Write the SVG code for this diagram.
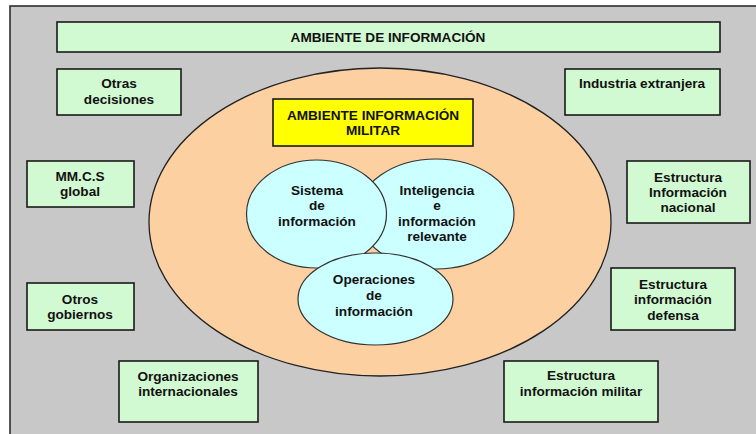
<svg xmlns="http://www.w3.org/2000/svg" width="756" height="434" viewBox="0 0 756 434">
<style>
.box{fill:#d2fad2;stroke:#1a1a1a;stroke-width:1.6}
.inner{fill:#ccffff;stroke:#333;stroke-width:1.2}
text{font-family:"Liberation Sans",Arial,sans-serif;font-weight:bold;font-size:13.6px;fill:#111;text-anchor:middle}
</style>
<rect x="0" y="0" width="756" height="434" fill="#ffffff"/>
<rect id="frame" x="10" y="6" width="780" height="450" fill="#c8c8c8" stroke="#222" stroke-width="1.5"/>
<g id="connectors"/>
<g id="ambiente-informacion">
<rect class="box" x="57" y="22" width="663" height="30"/>
<text x="388" y="41.5">AMBIENTE DE INFORMACIÓN</text>
</g>
<g id="otras-decisiones">
<rect class="box" x="57" y="69" width="124" height="46"/>
<text x="119" y="88">Otras</text><text x="119" y="103.5">decisiones</text>
</g>
<g id="mmcs-global">
<rect class="box" x="27" y="161" width="107" height="46"/>
<text x="80" y="180.5">MM.C.S</text><text x="80" y="196">global</text>
</g>
<g id="otros-gobiernos">
<rect class="box" x="27" y="283" width="107" height="47"/>
<text x="80" y="303.5">Otros</text><text x="80" y="319">gobiernos</text>
</g>
<g id="organizaciones">
<rect class="box" x="119" y="361" width="139" height="61"/>
<text x="188" y="380.5">Organizaciones</text><text x="188" y="396">internacionales</text>
</g>
<g id="industria">
<rect class="box" x="565" y="69" width="155" height="46"/>
<text x="642" y="88">Industria extranjera</text>
</g>
<g id="estructura-nacional">
<rect class="box" x="627" y="161" width="123" height="62"/>
<text x="688" y="181.5">Estructura</text><text x="688" y="197">Información</text><text x="688" y="212">nacional</text>
</g>
<g id="estructura-defensa">
<rect class="box" x="611" y="268" width="124" height="62"/>
<text x="673" y="288.5">Estructura</text><text x="673" y="304">información</text><text x="673" y="319.5">defensa</text>
</g>
<g id="estructura-militar">
<rect class="box" x="504" y="361" width="154" height="61"/>
<text x="581" y="379.5">Estructura</text><text x="581" y="395.5">información militar</text>
</g>
<g id="ambiente-militar">
<ellipse cx="380" cy="222" rx="231" ry="154" fill="#fdd0a2" stroke="#222" stroke-width="1.3"/>
<rect x="273" y="99" width="200" height="47" fill="#ffff00" stroke="#1a1a1a" stroke-width="1.6"/>
<text x="373" y="119.5">AMBIENTE INFORMACIÓN</text><text x="373" y="134.5">MILITAR</text>
</g>
<g id="inteligencia">
<ellipse class="inner" cx="436" cy="214" rx="78" ry="55"/>
<text x="437" y="194.5">Inteligencia</text><text x="437" y="210">e</text><text x="437" y="225.5">información</text><text x="437" y="240.5">relevante</text>
</g>
<g id="sistema">
<ellipse class="inner" cx="316.5" cy="214" rx="70" ry="54"/>
<text x="317" y="194.5">Sistema</text><text x="317" y="210">de</text><text x="317" y="225.5">información</text>
</g>
<g id="operaciones">
<ellipse class="inner" cx="375.5" cy="299" rx="77.5" ry="46"/>
<text x="374" y="283.5">Operaciones</text><text x="374" y="300">de</text><text x="374" y="315.5">información</text>
</g>
</svg>
